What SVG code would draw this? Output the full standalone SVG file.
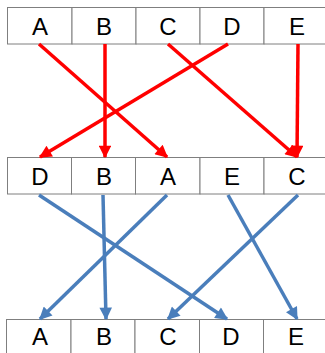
<svg xmlns="http://www.w3.org/2000/svg" width="325" height="353" viewBox="0 0 325 353">
<style>
.box{fill:#fff;stroke:#7f7f7f;stroke-width:1}
.t{font-family:"Liberation Sans",Arial,sans-serif;font-size:24px;fill:#000;text-anchor:middle}
.red{stroke:#ff0000;stroke-width:3.5;fill:none}
.blue{stroke:#4a7ebb;stroke-width:3.5;fill:none}
</style>
<defs>
<marker id="ar" viewBox="0 0 10 10" refX="9" refY="5" markerWidth="4" markerHeight="3.6" orient="auto" markerUnits="strokeWidth"><path d="M0,0 L10,5 L0,10 Z" fill="#ff0000"/></marker>
<marker id="ab" viewBox="0 0 10 10" refX="9" refY="5" markerWidth="4" markerHeight="3.6" orient="auto" markerUnits="strokeWidth"><path d="M0,0 L10,5 L0,10 Z" fill="#4a7ebb"/></marker>
</defs>
<g id="top">
<rect class="box" x="7.5" y="7.5" width="64.5" height="36.5"/><text class="t" x="40" y="34.5">A</text>
<rect class="box" x="72" y="7.5" width="64" height="36.5"/><text class="t" x="104" y="34.5">B</text>
<rect class="box" x="136" y="7.5" width="64" height="36.5"/><text class="t" x="168" y="34.5">C</text>
<rect class="box" x="200" y="7.5" width="64" height="36.5"/><text class="t" x="232" y="34.5">D</text>
<rect class="box" x="264" y="7.5" width="64" height="36.5"/><text class="t" x="297" y="34.5">E</text>
</g>
<g id="middle">
<rect class="box" x="7.5" y="157.5" width="64" height="36.5"/><text class="t" x="40" y="185">D</text>
<rect class="box" x="71.5" y="157.5" width="64" height="36.5"/><text class="t" x="104" y="185">B</text>
<rect class="box" x="135.5" y="157.5" width="64.5" height="36.5"/><text class="t" x="168" y="185">A</text>
<rect class="box" x="200" y="157.5" width="64" height="36.5"/><text class="t" x="232" y="185">E</text>
<rect class="box" x="264" y="157.5" width="64" height="36.5"/><text class="t" x="297" y="185">C</text>
</g>
<g id="bottom">
<rect class="box" x="6.5" y="319.5" width="64.5" height="36"/><text class="t" x="40" y="345">A</text>
<rect class="box" x="71" y="319.5" width="64" height="36"/><text class="t" x="104" y="345">B</text>
<rect class="box" x="135" y="319.5" width="64.5" height="36"/><text class="t" x="168" y="345">C</text>
<rect class="box" x="199.5" y="319.5" width="64" height="36"/><text class="t" x="231" y="345">D</text>
<rect class="box" x="263.5" y="319.5" width="64" height="36"/><text class="t" x="296" y="345">E</text>
</g>
<g id="connectors">
<line class="red" x1="39" y1="44" x2="167" y2="157" marker-end="url(#ar)"/>
<line class="red" x1="105" y1="44" x2="105" y2="157" marker-end="url(#ar)"/>
<line class="red" x1="168" y1="44" x2="297" y2="157" marker-end="url(#ar)"/>
<line class="red" x1="228" y1="44" x2="40" y2="157" marker-end="url(#ar)"/>
<line class="red" x1="298" y1="44" x2="297" y2="157" marker-end="url(#ar)"/>
<line class="blue" x1="39" y1="195" x2="227" y2="319" marker-end="url(#ab)"/>
<line class="blue" x1="103" y1="195" x2="106" y2="319" marker-end="url(#ab)"/>
<line class="blue" x1="167" y1="195" x2="40" y2="319" marker-end="url(#ab)"/>
<line class="blue" x1="228" y1="195" x2="297" y2="319" marker-end="url(#ab)"/>
<line class="blue" x1="298" y1="195" x2="168" y2="319" marker-end="url(#ab)"/>
</g>
</svg>
